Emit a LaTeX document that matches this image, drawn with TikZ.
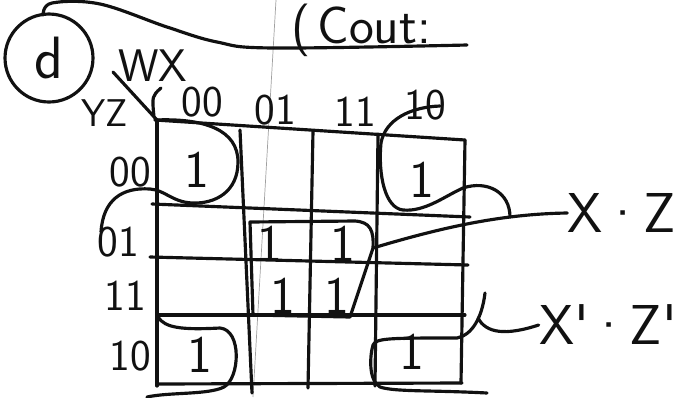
\documentclass[tikz,border=0pt]{standalone}
\usepackage{tikz}
\definecolor{kmink}{HTML}{111111}
\definecolor{kmpaper}{HTML}{A0A0A0}

\begin{document}
\begin{tikzpicture}[x=0.02cm,y=-0.02cm,
  pen/.style={draw=kmink,line width=1.8pt,line cap=round,line join=round},
  lbl/.style={font=\sffamily\fontsize{25}{25}\selectfont,text=kmink,inner sep=0pt},
  onetxt/.style={font=\sffamily\fontsize{30}{30}\selectfont,text=kmink,inner sep=0pt},
  bigtxt/.style={font=\sffamily\fontsize{32}{32}\selectfont,text=kmink,inner sep=0pt}]
  \useasboundingbox (0,0) rectangle (677,397);
  % paper line
  \draw[kmpaper,line width=0.4pt] (276,0) -- (253,397);
  % title
  \node[bigtxt,circle,pen,inner sep=0pt,minimum size=1.76cm,font=\sffamily\fontsize{34}{34}\selectfont] (dlab) at (49,58) {d};
  \draw[pen] plot[smooth,tension=0.6] coordinates {(43,15) (52,3) (100,4) (167,27) (217,42) (273,48) (467,45)};
  \node[bigtxt,font=\sffamily\fontsize{30}{30}\selectfont] (cout) at (361,30) {(\hspace{4pt}Cout:};
  % map grid
  \foreach \a/\b/\c/\d in {155/120/465/140,152/204/470/217,150/257/468/265,157/315/465/315,157/384/462/383}
    {\draw[pen] (\a,\b) -- (\c,\d);}
  \foreach \a/\b/\c/\d in {157/120/157/386,240/130/252/393,313/131/308/388,378/134/375/386,465/140/461/383}
    {\draw[pen] (\a,\b) -- (\c,\d);}
  % variable labels
  \draw[pen] (113,72) -- (157,120);
  \node[lbl,font=\sffamily\fontsize{26}{26}\selectfont] (wx) at (153,66) {WX};
  \node[lbl,font=\sffamily\fontsize{22}{22}\selectfont] (yz) at (105,113) {YZ};
  \foreach \n/\x/\y in {00/202/102,01/275/110,11/355/112,10/425/105}{\node[lbl] (col\n) at (\x,\y) {\n};}
  \foreach \n/\x/\y in {00/130/172,01/118/242,11/125/296,10/130/356}{\node[lbl] (row\n) at (\x,\y) {\n};}
  % ones
  \foreach \i/\x/\y in {a/197/170,b/422/180,c/270/244,d/343/244,e/283/296,f/337/296,g/200/355,h/412/352}
    {\node[onetxt] (one\i) at (\x,\y) {1};}
  % groups
  \draw[pen] (155,120) .. controls (205,118) and (238,130) .. (238,162) .. controls (238,192) and (215,204) .. (192,203) .. controls (172,202) and (165,190) .. (150,189) .. controls (122,187) and (103,200) .. (101,232);
  \draw[pen] (161,88) .. controls (152,96) .. (154,117);
  \draw[pen] (440,106) .. controls (410,107) and (385,120) .. (381,143) .. controls (378,175) and (385,208) .. (403,210) .. controls (425,212) and (445,196) .. (463,188) .. controls (487,180) and (510,192) .. (510,217);
  \draw[pen] (250,222) -- (355,221) .. controls (370,222) and (374,230) .. (373,248) coordinate (xzend) -- (350,317) -- (253,315) -- cycle;
  \draw[pen] (158,317) .. controls (165,328) and (182,330) .. (220,328) .. controls (242,330) and (240,378) .. (224,387) .. controls (208,395) and (170,392) .. (147,397);
  \draw[pen] (487,393) .. controls (430,390) and (395,392) .. (380,387) .. controls (368,380) and (370,355) .. (373,345) .. controls (376,338) and (390,338) .. (457,338) .. controls (472,335) and (482,318) .. (485,293);
  \coordinate (xpzpend) at (478,318);
  % results
  \node[bigtxt] (lxz) at (622,213) {X·Z};
  \node[bigtxt] (lxpzp) at (608,325) {X\textquotesingle·Z\textquotesingle};
  \draw[pen] (xzend) .. controls (440,228) and (500,214) .. (lxz.west);
  \draw[pen] (xpzpend) .. controls (486,333) and (505,336) .. (lxpzp.west);
\end{tikzpicture}
\end{document}
